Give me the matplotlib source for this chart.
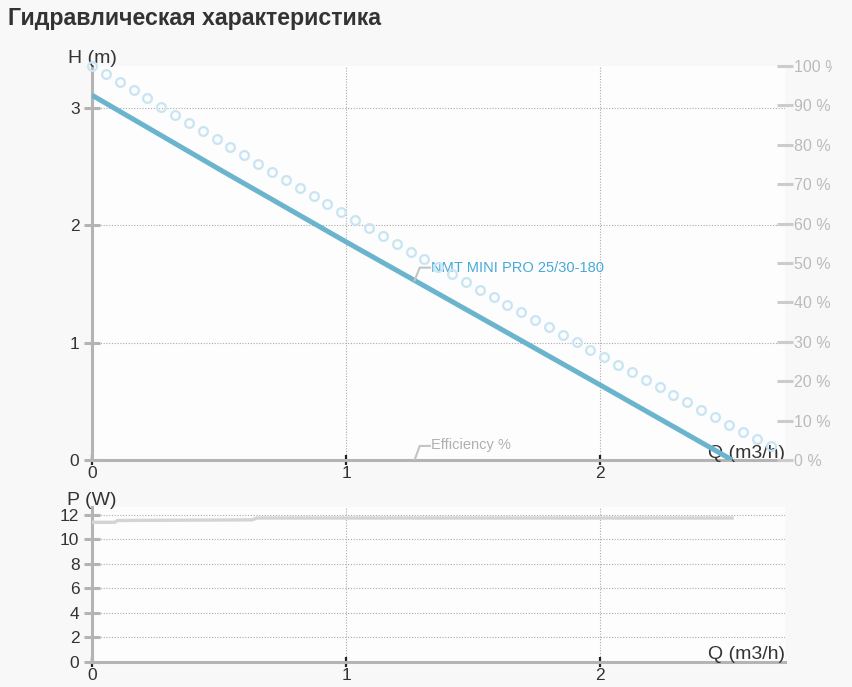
import matplotlib
matplotlib.use("Agg")
import matplotlib.pyplot as plt
from matplotlib.transforms import Bbox

plt.rcParams['font.family'] = ['Liberation Sans', 'DejaVu Sans']

# характеристика насоса NMT MINI PRO 25/30-180
q_h = [0.0, 0.5, 1.0, 1.5, 2.0, 2.52]
h_m = [3.11, 2.48, 1.86, 1.25, 0.64, 0.0]

q_eff = [0.000, 0.055, 0.109, 0.164, 0.218, 0.273, 0.327, 0.382, 0.436, 0.491,
         0.545, 0.600, 0.654, 0.709, 0.763, 0.818, 0.872, 0.927, 0.981, 1.036,
         1.090, 1.145, 1.199, 1.254, 1.308, 1.363, 1.417, 1.472, 1.526, 1.581,
         1.635, 1.690, 1.744, 1.799, 1.853, 1.908, 1.962, 2.017, 2.071, 2.126,
         2.180, 2.235, 2.289, 2.344, 2.398, 2.453, 2.507, 2.562, 2.616, 2.671]
eff = [100.0, 98.0, 95.9, 93.8, 91.8, 89.7, 87.6, 85.6, 83.5, 81.5,
       79.4, 77.3, 75.2, 73.2, 71.1, 69.1, 67.0, 65.0, 62.9, 60.9,
       58.9, 56.9, 54.9, 52.9, 51.0, 49.0, 47.1, 45.1, 43.2, 41.3,
       39.4, 37.5, 35.6, 33.7, 31.8, 29.9, 28.0, 26.1, 24.2, 22.3,
       20.4, 18.5, 16.6, 14.7, 12.8, 10.9, 9.0, 7.1, 5.3, 3.5]

q_p = [0.0, 0.09, 0.10, 0.63, 0.65, 2.52]
p_w = [11.4, 11.4, 11.55, 11.6, 11.75, 11.75]

h_ticks = [0, 1, 2, 3]
p_ticks = [0, 2, 4, 6, 8, 10, 12]
eff_ticks = [0, 10, 20, 30, 40, 50, 60, 70, 80, 90, 100]
q_ticks = [0, 1, 2]

W, H = 853, 687
bg = '#f8f8f8'
spine_c = '#b4b4b4'
txt_c = '#333333'
line_c = '#6ab4cd'

fig = plt.figure(figsize=(W / 100, H / 100), dpi=100, facecolor=bg)


def box(x0, y0, x1, y1):
    return [x0 / W, 1 - y1 / H, (x1 - x0) / W, (y1 - y0) / H]


def style_axes(ax, yt):
    ax.set_facecolor('#fdfdfd')
    for s in ['top', 'right']:
        ax.spines[s].set_visible(False)
    for s in ['left', 'bottom']:
        ax.spines[s].set_color(spine_c)
        ax.spines[s].set_linewidth(2.2)
    ax.set_xticks(q_ticks)
    ax.set_yticks(yt)
    ax.tick_params(axis='y', direction='inout', length=12, width=2.2,
                   color=spine_c, labelcolor=txt_c, labelsize=12.5, pad=3)
    ax.tick_params(axis='x', direction='inout', length=7, width=1.6,
                   color='#222222', labelcolor=txt_c, labelsize=12.5, pad=1)
    ax.grid(True, color='#aaaaaa', linestyle=(0, (1, 1.5)), linewidth=0.8)
    ax.set_axisbelow(True)


# верхний график: напор
ax = fig.add_axes(box(92, 66, 785, 460))
style_axes(ax, h_ticks)
ax.set_xlim(0, 2.728)
ax.set_ylim(0, 3.359)
ax.plot(q_h, h_m, color=line_c, lw=3.6, solid_capstyle='butt', zorder=4)

ax2 = ax.twinx()
ax2.set_ylim(0, 100)
for s in ['top', 'right', 'left', 'bottom']:
    ax2.spines[s].set_visible(False)
ax2.set_yticks(eff_ticks)
ax2.set_yticklabels([f'{v} %' for v in eff_ticks])
ax2.tick_params(axis='y', direction='inout', length=12, width=2.2,
                color='#cccccc', labelcolor='#bbbbbb', labelsize=11.5, pad=0.5)
# правые подписи обрезаны у края блока, как в оригинале
clip = Bbox.from_extents(0, 0, 832, H)
for lbl in ax2.get_yticklabels():
    lbl.set_clip_box(clip)
    lbl.set_clip_on(True)
ax2.plot(q_eff, eff, linestyle='none', marker='o', markersize=6.3,
         markerfacecolor='none', markeredgecolor='#c8e5f3', markeredgewidth=1.6,
         zorder=3, clip_on=False)

ax.text(0.0, 0.997, 'H (m)', transform=ax.transAxes, ha='center', va='bottom',
        fontsize=14, color=txt_c)
ax.text(1.0, -0.004, 'Q (m3/h)', transform=ax.transAxes, ha='right', va='bottom',
        fontsize=14, color=txt_c)

# подписи серий с выносками
ax.plot([1.27, 1.29, 1.33], [1.53, 1.64, 1.64], color='#c4c4c4', lw=1.5, zorder=5)
ax.text(1.335, 1.64, 'NMT MINI PRO 25/30-180', color='#47a9d9', fontsize=10.5,
        ha='left', va='center', zorder=5)
ax.plot([1.27, 1.29, 1.33], [0.0, 0.12, 0.12], color='#c4c4c4', lw=1.5, zorder=5)
ax.text(1.335, 0.13, 'Efficiency %', color='#b0b0b0', fontsize=10.5,
        ha='left', va='center', zorder=5)

# нижний график: мощность
bx = fig.add_axes(box(92, 507, 785, 662))
style_axes(bx, p_ticks)
bx.set_xlim(0, 2.728)
bx.set_ylim(0, 12.65)
bx.plot(q_p, p_w, color='#d4d4d4', lw=2.4, zorder=4)
bx.text(0.0, 0.985, 'P (W)', transform=bx.transAxes, ha='center', va='bottom',
        fontsize=14, color=txt_c)
bx.text(1.0, -0.005, 'Q (m3/h)', transform=bx.transAxes, ha='right', va='bottom',
        fontsize=14, color=txt_c)

fig.text(8 / W, 1 - 18 / H, 'Гидравлическая характеристика', fontsize=16.7,
         fontweight='bold', color=txt_c, ha='left', va='center')

fig.savefig('out.png', dpi=100, facecolor=bg)
